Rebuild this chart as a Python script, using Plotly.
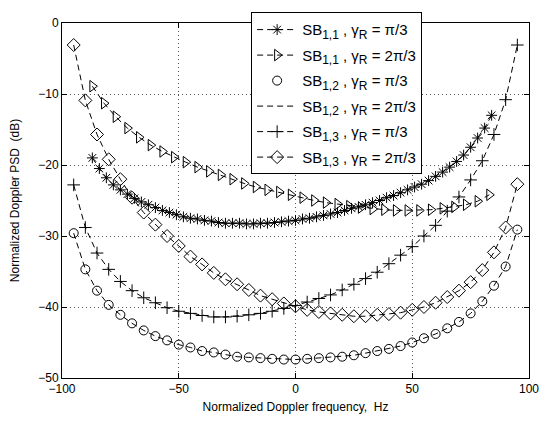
import plotly.graph_objects as go

# ---- data ----
x_sb11_pi3 = list(range(-87, 85, 3))
y_sb11_pi3 = [-19.0, -20.5, -21.8, -22.8, -23.5, -24.1, -24.7, -25.2, -25.6, -26.0,
              -26.4, -26.7, -27.0, -27.3, -27.5, -27.6, -27.8, -27.9, -28.1, -28.2,
              -28.2, -28.2, -28.3, -28.3, -28.2, -28.2, -28.1, -28.0, -27.9, -27.8,
              -27.6, -27.5, -27.3, -27.1, -26.9, -26.7, -26.4, -26.1, -25.9, -25.6,
              -25.3, -25.0, -24.6, -24.3, -23.9, -23.5, -23.1, -22.7, -22.2, -21.6,
              -21.0, -20.3, -19.5, -18.6, -17.5, -16.2, -14.8, -13.0]

x_sb11_2pi3 = list(range(-87, 84, 5))
y_sb11_2pi3 = [-8.9, -11.3, -13.2, -14.8, -16.1, -17.2, -18.1, -18.9, -19.6, -20.3,
               -20.9, -21.4, -22.0, -22.6, -23.1, -23.5, -23.8, -24.2, -24.6, -25.0,
               -25.3, -25.5, -25.8, -26.0, -26.2, -26.3, -26.4, -26.4, -26.4, -26.3,
               -26.1, -25.9, -25.6, -25.1, -24.2]

x_sb12_pi3 = list(range(-95, 96, 5))
y_sb12_pi3 = [-29.6, -34.7, -37.7, -39.7, -41.1, -42.3, -43.3, -44.1, -44.7, -45.3,
              -45.7, -46.2, -46.4, -46.7, -47.0, -47.1, -47.2, -47.3, -47.4, -47.4,
              -47.3, -47.2, -47.1, -47.0, -46.8, -46.5, -46.2, -45.9, -45.5, -45.0,
              -44.4, -43.8, -43.0, -42.1, -40.9, -39.2, -37.0, -34.3, -29.1]

x_sb12_2pi3 = list(range(-95, 96, 5))
y_sb12_2pi3 = [-29.6, -34.7, -37.7, -39.7, -41.1, -42.3, -43.3, -44.1, -44.7, -45.3,
               -45.7, -46.2, -46.4, -46.7, -47.0, -47.1, -47.2, -47.3, -47.4, -47.4,
               -47.3, -47.2, -47.1, -47.0, -46.8, -46.5, -46.2, -45.9, -45.5, -45.0,
               -44.4, -43.8, -43.0, -42.1, -40.9, -39.2, -37.0, -34.3, -29.1]

x_sb13_pi3 = list(range(-95, 96, 5))
y_sb13_pi3 = [-22.8, -28.8, -32.4, -34.7, -36.4, -37.7, -38.7, -39.4, -40.1, -40.6,
              -40.9, -41.2, -41.4, -41.4, -41.3, -41.1, -40.9, -40.6, -40.2, -39.8,
              -39.3, -38.8, -38.3, -37.6, -36.8, -36.0, -35.1, -33.9, -32.7, -31.5,
              -30.0, -28.5, -26.5, -24.5, -22.1, -19.4, -15.7, -10.8, -3.1]

x_sb13_2pi3 = list(range(-95, 96, 5))
y_sb13_2pi3 = [-3.1, -10.9, -15.7, -19.2, -22.0, -24.6, -26.7, -28.4, -30.0, -31.4,
               -32.9, -34.0, -35.2, -36.1, -36.8, -37.6, -38.4, -38.9, -39.5, -39.9,
               -40.4, -40.7, -40.9, -41.1, -41.3, -41.3, -41.1, -41.0, -40.8, -40.4,
               -40.0, -39.4, -38.6, -37.7, -36.5, -34.8, -32.3, -28.8, -22.7]

sb_labels = ["1,1", "1,1", "1,2", "1,2", "1,3", "1,3"]
gamma_labels = ["π/3", "2π/3", "π/3", "2π/3", "π/3", "2π/3"]

x_ticks = [-100, -50, 0, 50, 100]
y_ticks = [0, -10, -20, -30, -40, -50]

SUB = '<sub><span style="font-size:12px">{}</span></sub>'
names = [f"SB{SUB.format(s)} , γ{SUB.format('R')} = {g}"
         for s, g in zip(sb_labels, gamma_labels)]

# ---- figure ----
DASH = "6px,4px"
FONT = "Liberation Sans, Arial"
fig = go.Figure()

def add(i, x, y, mode, symbol=None, size=8):
    marker = dict(color="black", size=size, line=dict(color="black", width=1))
    if symbol:
        marker["symbol"] = symbol
    fig.add_trace(go.Scatter(
        x=x, y=y, name=names[i], mode=mode, legendgroup=f"g{i}",
        line=dict(color="black", width=1, dash=DASH),
        marker=marker,
    ))

add(0, x_sb11_pi3, y_sb11_pi3, "lines+markers", "asterisk-open", 9)
add(1, x_sb11_2pi3, y_sb11_2pi3, "lines+markers", "triangle-right-open", 10)
add(2, x_sb12_pi3, y_sb12_pi3, "markers", "circle-open", 9)
add(3, x_sb12_2pi3, y_sb12_2pi3, "lines")
add(4, x_sb13_pi3, y_sb13_pi3, "lines+markers", "cross-thin-open", 9)
add(5, x_sb13_2pi3, y_sb13_2pi3, "lines+markers", "diamond-open", 10)

axis_common = dict(
    showline=True, linecolor="black", linewidth=1, mirror="allticks",
    ticks="inside", ticklen=5, tickcolor="black",
    showgrid=True, gridcolor="#555555", griddash="1px,3px", gridwidth=1,
    zeroline=False, automargin=False,
    tickfont=dict(family=FONT, size=12, color="black"),
    title_font=dict(family=FONT, size=12, color="black"),
)

fig.update_xaxes(range=[-100, 100], tickvals=x_ticks,
                 title_text="Normalized Doppler frequency,  Hz", title_standoff=7,
                 **axis_common)
fig.update_yaxes(range=[-50, 0], tickvals=y_ticks,
                 title_text="Normalized Doppler PSD  (dB)", title_standoff=16,
                 **axis_common)

fig.update_layout(
    width=542, height=424,
    margin=dict(l=62, r=13, t=14, b=46),
    paper_bgcolor="white", plot_bgcolor="white",
    font=dict(family=FONT, size=12, color="black"),
    showlegend=True,
    legend=dict(
        x=0.405, y=1.03, xanchor="left", yanchor="top",
        bgcolor="white", bordercolor="black", borderwidth=1,
        font=dict(family=FONT, size=15, color="black"),
        tracegroupgap=3, itemwidth=40,
    ),
)

fig.write_html("out.html")
